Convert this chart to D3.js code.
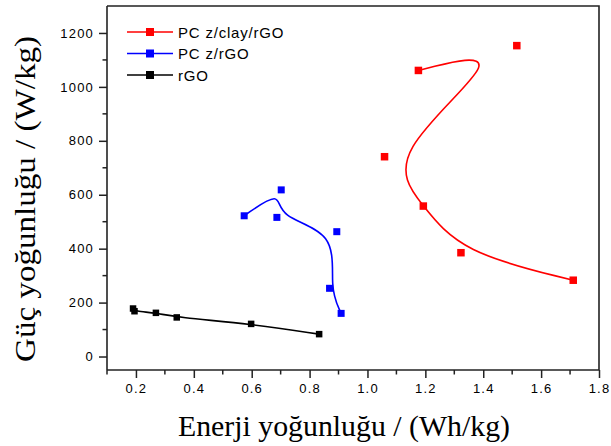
<!DOCTYPE html>
<html>
<head>
<meta charset="utf-8">
<script src="https://cdn.jsdelivr.net/npm/d3@7"></script>
<style>
  body { margin: 0; background: #fff; }
  svg { display: block; }
  .tick text { font-family: "Liberation Sans", Arial, sans-serif; font-size: 13px; letter-spacing: 1.2px; fill: #000; }
  .axis-title { font-family: "Liberation Serif", "Times New Roman", serif; font-size: 30px; fill: #000; }
  .legend text { font-family: "Liberation Sans", Arial, sans-serif; font-size: 15px; letter-spacing: 0.8px; fill: #000; }
</style>
</head>
<body>
<div id="chart"></div>
<script>
// chart size
const width = 611;
const height = 446;
const plot = {left: 107, right: 599, top: 6, bottom: 370};

// series data: energy density (Wh/kg) vs power density (W/kg)
const seriesNames = ["PC z/clay/rGO", "PC z/rGO", "rGO"];
const seriesColors = ["#ff0000", "#0000ff", "#000000"];

const clayX = [1.176, 1.516, 1.059, 1.193, 1.323, 1.711];
const clayY = [1061, 1153, 741, 558, 385, 283];

const pczX = [0.574, 0.702, 0.687, 0.894, 0.869, 0.909];
const pczY = [522, 618, 516, 463, 253, 160];

const rgoX = [0.19, 0.195, 0.269, 0.341, 0.598, 0.833];
const rgoY = [178, 168, 162, 145, 121, 83];

const xTicks = [0.2, 0.4, 0.6, 0.8, 1.0, 1.2, 1.4, 1.6, 1.8];
const yTicks = [0, 200, 400, 600, 800, 1000, 1200];

const svg = d3.select("#chart")
  .append("svg")
  .attr("width", width)
  .attr("height", height);

// scales
const x = d3.scaleLinear().domain([0.1, 1.8]).range([plot.left, plot.right]);
const y = d3.scaleLinear().domain([-50, 1300]).range([plot.bottom, plot.top]);

// frame (top and right edges)
svg.append("path")
  .attr("d", `M${plot.left},${plot.top}H${plot.right}V${plot.bottom}`)
  .attr("fill", "none")
  .attr("stroke", "#222")
  .attr("stroke-width", 1.6);

// minor ticks
const xMinor = d3.range(0.1, 1.81, 0.1).filter(v => Math.abs(Math.round(v * 5) - v * 5) > 0.01);
const yMinor = d3.range(100, 1300, 200);

const xAxis = svg.append("g")
  .attr("transform", `translate(0,${plot.bottom})`)
  .call(d3.axisBottom(x).tickValues(xTicks).tickFormat(d3.format(".1f")).tickSize(8).tickPadding(6));
xAxis.append("g").selectAll("line")
  .data(xMinor)
  .enter()
  .append("line")
  .attr("x1", d => x(d)).attr("x2", d => x(d))
  .attr("y1", 0).attr("y2", 4.5)
  .attr("stroke", "#222").attr("stroke-width", 1.5);

const yAxis = svg.append("g")
  .attr("transform", `translate(${plot.left},0)`)
  .call(d3.axisLeft(y).tickValues(yTicks).tickFormat(d3.format("d")).tickSize(8).tickPadding(5));
yAxis.append("g").selectAll("line")
  .data(yMinor)
  .enter()
  .append("line")
  .attr("y1", d => y(d)).attr("y2", d => y(d))
  .attr("x1", 0).attr("x2", -4.5)
  .attr("stroke", "#222").attr("stroke-width", 1.5);

[xAxis, yAxis].forEach(g => {
  g.select(".domain").attr("stroke", "#222").attr("stroke-width", 1.6)
    .attr("d", g === xAxis ? `M${plot.left},0H${plot.right}` : `M0,${plot.top}V${plot.bottom}`);
  g.selectAll(".tick line").attr("stroke", "#222").attr("stroke-width", 1.5);
});

// axis titles
svg.append("text")
  .attr("class", "axis-title")
  .attr("x", 178)
  .attr("y", 436)
  .attr("textLength", 332)
  .attr("lengthAdjust", "spacingAndGlyphs")
  .text("Enerji yoğunluğu / (Wh/kg)");

svg.append("text")
  .attr("class", "axis-title")
  .attr("transform", "translate(35,362) rotate(-90)")
  .attr("x", 0)
  .attr("y", 0)
  .attr("textLength", 326)
  .attr("lengthAdjust", "spacingAndGlyphs")
  .text("Güç yoğunluğu / (W/kg)");

// curves and markers
const allX = [clayX, pczX, rgoX];
const allY = [clayY, pczY, rgoY];
const markerSize = [7.5, 7, 6.5];

const line = d3.line()
  .x(d => x(d[0]))
  .y(d => y(d[1]))
  .curve(d3.curveBasis);

seriesNames.forEach((name, i) => {
  const pts = allX[i].map((v, j) => [v, allY[i][j]]);
  svg.append("path")
    .datum(pts)
    .attr("d", line)
    .attr("fill", "none")
    .attr("stroke", seriesColors[i])
    .attr("stroke-width", 1.6);
  svg.append("g").selectAll("rect")
    .data(pts)
    .enter()
    .append("rect")
    .attr("x", d => x(d[0]) - markerSize[i] / 2)
    .attr("y", d => y(d[1]) - markerSize[i] / 2)
    .attr("width", markerSize[i])
    .attr("height", markerSize[i])
    .attr("fill", seriesColors[i]);
});

// legend
const legend = svg.append("g").attr("class", "legend");
seriesNames.forEach((name, i) => {
  const ly = 32 + i * 21.5;
  legend.append("line")
    .attr("x1", 127).attr("x2", 173)
    .attr("y1", ly).attr("y2", ly)
    .attr("stroke", seriesColors[i])
    .attr("stroke-width", 1.6);
  legend.append("rect")
    .attr("x", 146).attr("y", ly - 4)
    .attr("width", 8).attr("height", 8)
    .attr("fill", seriesColors[i]);
  legend.append("text")
    .attr("x", 178)
    .attr("y", ly + 5.5)
    .text(name);
});
</script>
</body>
</html>
